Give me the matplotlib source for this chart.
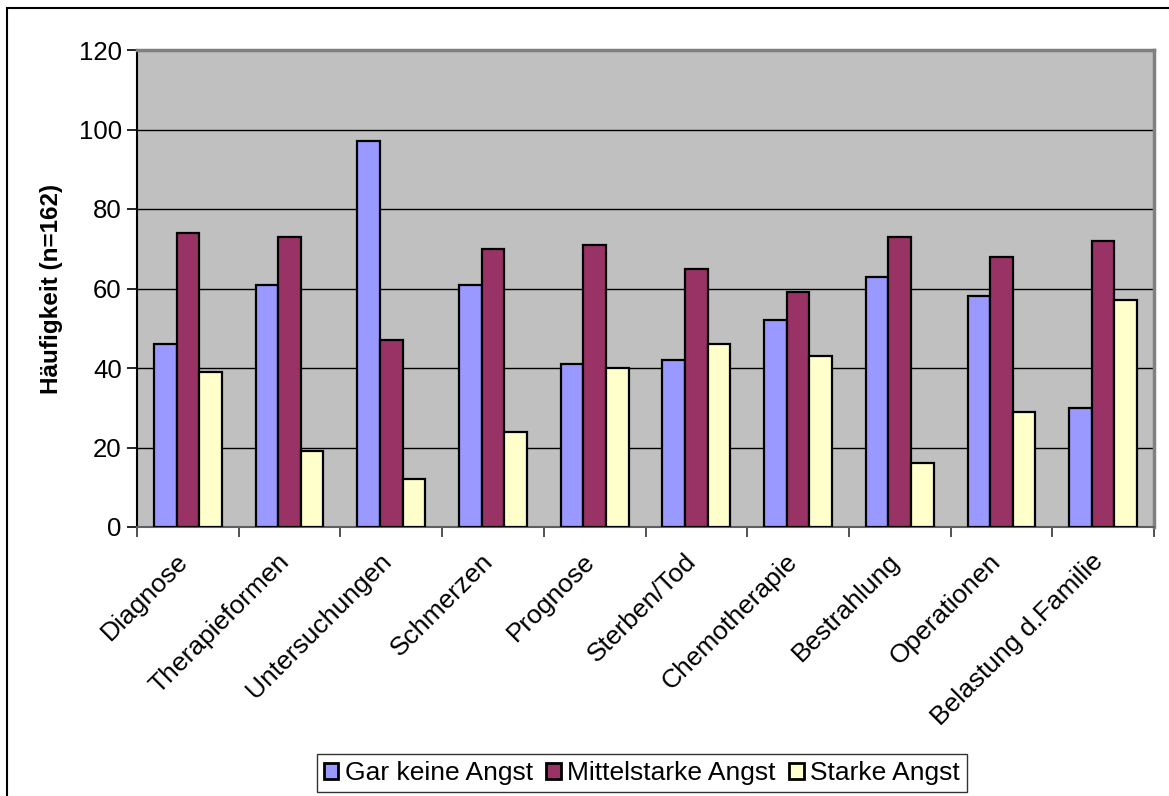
import numpy as np
import matplotlib
matplotlib.use("Agg")
import matplotlib.pyplot as plt
from matplotlib.patches import Rectangle

plt.rcParams['font.family'] = ['Liberation Sans', 'DejaVu Sans']

categories = ["Diagnose", "Therapieformen", "Untersuchungen", "Schmerzen", "Prognose",
              "Sterben/Tod", "Chemotherapie", "Bestrahlung", "Operationen", "Belastung d.Familie"]
gar_keine = [46, 61, 97, 61, 41, 42, 52, 63, 58, 30]
mittelstarke = [74, 73, 47, 70, 71, 65, 59, 73, 68, 72]
starke = [39, 19, 12, 24, 40, 46, 43, 16, 29, 57]
series_names = ["Gar keine Angst", "Mittelstarke Angst", "Starke Angst"]
colors = ["#9999FF", "#993366", "#FFFFCC"]
y_ticks = [0, 20, 40, 60, 80, 100, 120]

FS = 18.5
W, H = 1169, 796
fig = plt.figure(figsize=(W / 100, H / 100), dpi=100)
ax = fig.add_axes([137 / W, 1 - 527 / H, (1154 - 137) / W, (527 - 50) / H])
ax.set_facecolor("#C0C0C0")

x = np.arange(len(categories))
bw = 1 / 4.5
for i, (vals, name, c) in enumerate(zip([gar_keine, mittelstarke, starke], series_names, colors)):
    ax.bar(x + (i - 1) * bw, vals, width=bw, color=c, edgecolor="black",
           linewidth=1.6, label=name, zorder=3)

ax.set_xlim(-0.5, len(categories) - 0.5)
ax.set_ylim(0, 120)
ax.set_yticks(y_ticks)
ax.set_yticklabels([str(v) for v in y_ticks], fontsize=FS)
ax.yaxis.grid(True, color="black", linewidth=1.0, zorder=0)
ax.set_axisbelow(True)

ax.set_xticks(np.arange(len(categories) + 1) - 0.5, minor=False)
ax.set_xticklabels([])
ax.tick_params(axis="x", direction="out", length=7, width=1.2, color="#333333")
ax.tick_params(axis="y", direction="out", length=7, width=1.2, color="black", pad=4)

for xi, lab in zip(x, categories):
    ax.annotate(lab, xy=(xi, 0), xycoords=("data", "axes fraction"),
                xytext=(-9, -16), textcoords="offset points",
                rotation=45, ha="right", va="top", rotation_mode="anchor", fontsize=19)

ax.spines["left"].set_color("black")
ax.spines["left"].set_linewidth(1.5)
ax.spines["bottom"].set_color("#606060")
ax.spines["bottom"].set_linewidth(1.5)
for s in ("top", "right"):
    ax.spines[s].set_color("#808080")
    ax.spines[s].set_linewidth(2.5)

ax.set_ylabel("Häufigkeit (n=162)", fontsize=17.5, fontweight="bold", labelpad=11)

leg = fig.legend(loc="center", bbox_to_anchor=(642 / W, 1 - 773 / H), ncol=3,
                 fontsize=19, frameon=True, fancybox=False, edgecolor="black",
                 handlelength=0.55, handleheight=0.55, handletextpad=0.25,
                 columnspacing=0.5, borderpad=0.25, borderaxespad=0)
leg.get_frame().set_linewidth(1.0)
for h in leg.legend_handles:
    h.set_linewidth(2.0)

# outer chart frame
fig.patches.append(Rectangle((7 / W, -0.01), 1.2, 1 - 8 / H + 0.01, transform=fig.transFigure,
                             fill=False, edgecolor="black", linewidth=1.5))

fig.savefig("out.png", dpi=100)
